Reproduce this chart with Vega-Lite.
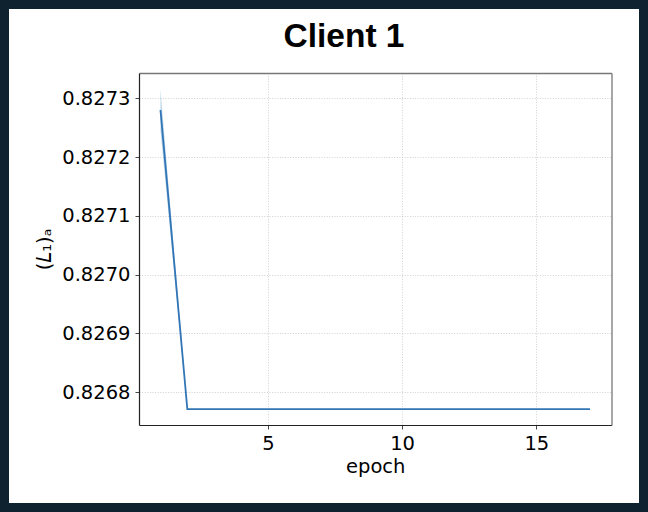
{
  "$schema": "https://vega.github.io/schema/vega-lite/v6.json",
  "width": 648,
  "height": 512,
  "autosize": {"type": "none"},
  "padding": 0,
  "background": "white",
  "view": {"stroke": "#0f2230", "strokeWidth": 18, "fill": "white"},
  "title": {
    "text": "Client 1",
    "font": "Liberation Sans",
    "fontSize": 33.5,
    "fontWeight": "bold",
    "color": "#000000",
    "anchor": "middle",
    "dx": 20,
    "baseline": "alphabetic",
    "offset": -80
  },
  "data": {
    "values": [
      {"epoch": 1, "mean": 0.82728, "lo": 0.827245, "hi": 0.827315},
      {"epoch": 2, "mean": 0.826771, "lo": 0.826771, "hi": 0.826771},
      {"epoch": 3, "mean": 0.826771, "lo": 0.826771, "hi": 0.826771},
      {"epoch": 4, "mean": 0.826771, "lo": 0.826771, "hi": 0.826771},
      {"epoch": 5, "mean": 0.826771, "lo": 0.826771, "hi": 0.826771},
      {"epoch": 6, "mean": 0.826771, "lo": 0.826771, "hi": 0.826771},
      {"epoch": 7, "mean": 0.826771, "lo": 0.826771, "hi": 0.826771},
      {"epoch": 8, "mean": 0.826771, "lo": 0.826771, "hi": 0.826771},
      {"epoch": 9, "mean": 0.826771, "lo": 0.826771, "hi": 0.826771},
      {"epoch": 10, "mean": 0.826771, "lo": 0.826771, "hi": 0.826771},
      {"epoch": 11, "mean": 0.826771, "lo": 0.826771, "hi": 0.826771},
      {"epoch": 12, "mean": 0.826771, "lo": 0.826771, "hi": 0.826771},
      {"epoch": 13, "mean": 0.826771, "lo": 0.826771, "hi": 0.826771},
      {"epoch": 14, "mean": 0.826771, "lo": 0.826771, "hi": 0.826771},
      {"epoch": 15, "mean": 0.826771, "lo": 0.826771, "hi": 0.826771},
      {"epoch": 16, "mean": 0.826771, "lo": 0.826771, "hi": 0.826771},
      {"epoch": 17, "mean": 0.826771, "lo": 0.826771, "hi": 0.826771}
    ]
  },
  "layer": [
    {
      "mark": {"type": "area", "color": "#1f77b4", "opacity": 0.3},
      "encoding": {
        "x": {
          "field": "epoch",
          "type": "quantitative",
          "scale": {"domain": [0.2, 17.8], "range": [139, 611.5], "nice": false, "zero": false},
          "axis": {
            "orient": "top",
            "offset": -73,
            "grid": true,
            "labels": false,
            "ticks": false,
            "domain": true,
            "domainColor": "#777777",
            "domainWidth": 1.3,
            "title": null,
            "values": [5, 10, 15]
          }
        },
        "y": {
          "field": "hi",
          "type": "quantitative",
          "scale": {"domain": [0.826744, 0.827343], "range": [425, 73], "nice": false, "zero": false},
          "axis": {
            "orient": "left",
            "offset": -139,
            "grid": true,
            "values": [0.8268, 0.8269, 0.827, 0.8271, 0.8272, 0.8273],
            "format": ".4f",
            "title": "(𝐿₁)ₐ",
            "titlePadding": 7
          }
        },
        "y2": {"field": "lo"}
      }
    },
    {
      "mark": {"type": "line", "color": "#3275b7", "strokeWidth": 1.8},
      "encoding": {
        "x": {
          "field": "epoch",
          "type": "quantitative",
          "scale": {"domain": [0.2, 17.8], "range": [139, 611.5], "nice": false, "zero": false},
          "axis": {
            "orient": "bottom",
            "offset": -87,
            "grid": false,
            "values": [5, 10, 15],
            "format": "d",
            "title": "epoch",
            "titlePadding": 5
          }
        },
        "y": {
          "field": "mean",
          "type": "quantitative",
          "scale": {"domain": [0.826744, 0.827343], "range": [425, 73], "nice": false, "zero": false},
          "axis": {
            "orient": "right",
            "offset": -36.5,
            "grid": false,
            "labels": false,
            "ticks": false,
            "domain": true,
            "domainColor": "#777777",
            "domainWidth": 1.3,
            "title": null
          }
        }
      }
    }
  ],
  "config": {
    "axis": {
      "labelFont": "DejaVu Sans",
      "labelFontSize": 19.5,
      "labelColor": "#000000",
      "titleFont": "DejaVu Sans",
      "titleFontSize": 19.5,
      "titleFontWeight": "normal",
      "titleColor": "#000000",
      "domainColor": "#222222",
      "domainWidth": 1.2,
      "tickColor": "#333333",
      "tickSize": 4,
      "tickWidth": 0.9,
      "labelPadding": 5,
      "gridColor": "#c4c4c4",
      "gridWidth": 0.8,
      "gridDash": [1, 1.6]
    }
  }
}
